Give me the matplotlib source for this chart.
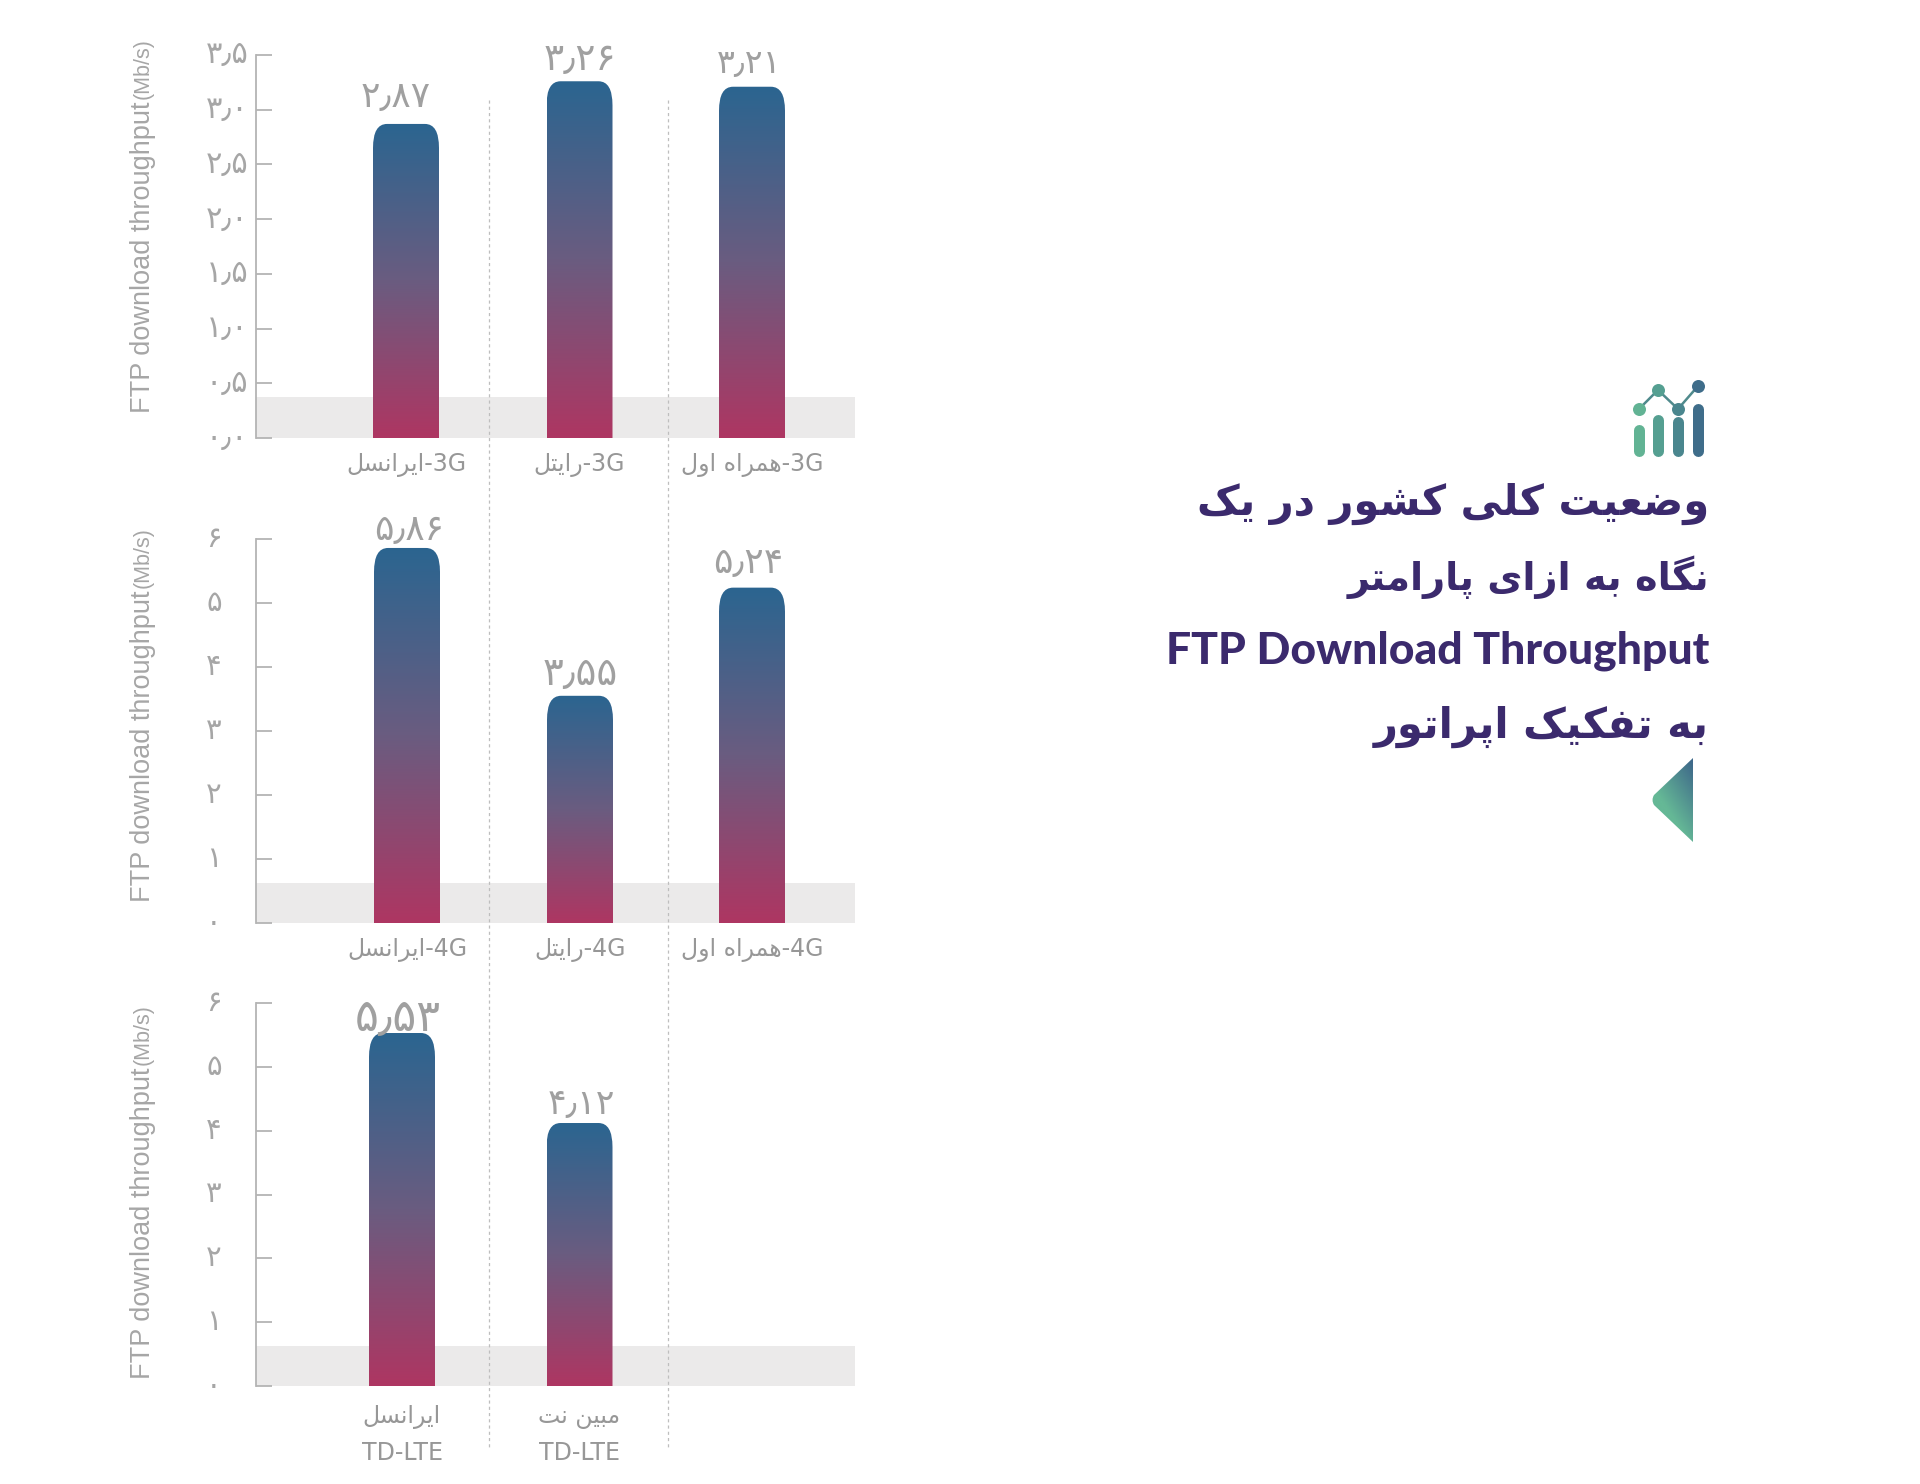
import numpy as np
import matplotlib
matplotlib.use("Agg")
import matplotlib.pyplot as plt
from matplotlib.colors import LinearSegmentedColormap
from matplotlib.path import Path
from matplotlib.patches import PathPatch

# ---------- data ----------
operators_3g = ["ایرانسل", "رایتل", "همراه اول"]
values_3g = [2.87, 3.26, 3.21]
operators_4g = ["ایرانسل", "رایتل", "همراه اول"]
values_4g = [5.86, 3.55, 5.24]
operators_td = ["ایرانسل", "مبین نت"]
values_td = [5.53, 4.12]
ticks_3g = [0.0, 0.5, 1.0, 1.5, 2.0, 2.5, 3.0, 3.5]
ticks_int = [0, 1, 2, 3, 4, 5, 6]
band_3g = 0.375
band_4g = 0.625
band_td = 0.625
title_lines = ["وضعیت کلی کشور در یک", "نگاه به ازای پارامتر", "FTP Download Throughput", "به تفکیک اپراتور"]

# ---------- Persian shaping (matplotlib draws no shaping itself) ----------
FORMS = {
    "ا": (0xFE8D, 0xFE8E), "د": (0xFEA9, 0xFEAA), "ر": (0xFEAD, 0xFEAE), "ز": (0xFEAF, 0xFEB0), "و": (0xFEED, 0xFEEE),
    "ب": (0xFE8F, 0xFE90, 0xFE91, 0xFE92), "پ": (0xFB56, 0xFB57, 0xFB58, 0xFB59), "ت": (0xFE95, 0xFE96, 0xFE97, 0xFE98),
    "س": (0xFEB1, 0xFEB2, 0xFEB3, 0xFEB4), "ش": (0xFEB5, 0xFEB6, 0xFEB7, 0xFEB8), "ض": (0xFEBD, 0xFEBE, 0xFEBF, 0xFEC0),
    "ع": (0xFEC9, 0xFECA, 0xFECB, 0xFECC), "ف": (0xFED1, 0xFED2, 0xFED3, 0xFED4), "ک": (0xFB8E, 0xFB8F, 0xFB90, 0xFB91),
    "گ": (0xFB92, 0xFB93, 0xFB94, 0xFB95), "ل": (0xFEDD, 0xFEDE, 0xFEDF, 0xFEE0), "م": (0xFEE1, 0xFEE2, 0xFEE3, 0xFEE4),
    "ن": (0xFEE5, 0xFEE6, 0xFEE7, 0xFEE8), "ه": (0xFEE9, 0xFEEA, 0xFEEB, 0xFEEC), "ی": (0xFBFC, 0xFBFD, 0xFBFE, 0xFBFF),
}


def fa(text):
    out = []
    for i, ch in enumerate(text):
        f = FORMS.get(ch)
        if f is None:
            out.append(ch)
            continue
        prev = text[i - 1] if i else ""
        nxt = text[i + 1] if i + 1 < len(text) else ""
        pj = prev in FORMS and len(FORMS[prev]) == 4
        nj = nxt in FORMS and len(f) == 4
        if pj and nj:
            c = f[3]
        elif pj:
            c = f[1]
        elif nj:
            c = f[2]
        else:
            c = f[0]
        out.append(chr(c))
    return "".join(out)[::-1]


DIG = str.maketrans("0123456789.", "۰۱۲۳۴۵۶۷۸۹٫")


def fnum(v, d):
    return f"{v:.{d}f}".translate(DIG)


# ---------- layout (pixels of the 1920x1484 canvas) ----------
W, H = 1920, 1484
DPI = 100
PX = 72 / DPI
GREY = "#a6a6a6"
BAND = "#ebeaea"
fig = plt.figure(figsize=(W / DPI, H / DPI), dpi=DPI, facecolor="white")
grad = LinearSegmentedColormap.from_list("g", ["#2b6590", "#6a5c80", "#ae3662"])
gimg = np.linspace(0, 1, 256).reshape(-1, 1)


def panel(y_top, y_bot, values, labels, ticks, tick_dec, band, centers, offs, ylab_base, val_sizes, second_line=None, lab_suffix="", pad=15):
    ax = fig.add_axes([256 / W, 1 - y_bot / H, 599 / W, (y_bot - y_top) / H])
    ax.set_xlim(256, 855)
    ax.set_ylim(ticks[0], ticks[-1])
    ax.patch.set_alpha(0)
    for s in ("top", "right", "bottom"):
        ax.spines[s].set_visible(False)
    ax.spines["left"].set_color("#b4b4b4")
    ax.spines["left"].set_linewidth(1.3)
    ax.axhspan(0, band, color=BAND, lw=0, zorder=0)
    ax.set_yticks(ticks)
    ax.set_yticklabels([fnum(t, tick_dec) for t in ticks])
    ax.tick_params(axis="y", direction="in", length=16 * PX, width=1.3, color="#b4b4b4",
                   labelcolor=GREY, labelsize=22 if tick_dec else 21, pad=50 * PX)
    for lb in ax.get_yticklabels():
        lb.set_ha("left")
        lb.set_va("center")
    bars = ax.bar(centers, values, width=66, facecolor="none", edgecolor="none", zorder=2)
    ppy = (y_bot - y_top) / (ticks[-1] - ticks[0])
    rx, ry = 14, 24 / ppy
    for b, v, (dx, dy), vs in zip(bars, values, offs, val_sizes):
        x0, x1 = b.get_x(), b.get_x() + b.get_width()
        im = ax.imshow(gimg, cmap=grad, extent=[x0, x1, 0, v], aspect="auto", origin="upper", zorder=2)
        p = Path([(x0, 0), (x0, v - ry), (x0, v), (x0 + rx, v), (x1 - rx, v), (x1, v), (x1, v - ry), (x1, 0), (x0, 0)],
                 [Path.MOVETO, Path.LINETO, Path.CURVE3, Path.CURVE3, Path.LINETO, Path.CURVE3, Path.CURVE3, Path.LINETO, Path.CLOSEPOLY])
        im.set_clip_path(PathPatch(p, transform=ax.transData))
        ax.annotate(fnum(v, 2), (b.get_x() + b.get_width() / 2, v), xytext=(dx * PX, dy * PX),
                    textcoords="offset points", ha="center", va="center", color="#a0a0a0", fontsize=vs, zorder=3)
    ax.set_xlim(256, 855)
    ax.set_ylim(ticks[0], ticks[-1])
    ax.set_xticks(centers)
    if second_line:
        ax.set_xticklabels([fa(l) + "\n" + second_line for l in labels], linespacing=1.64)
    else:
        ax.set_xticklabels([fa(l) + lab_suffix for l in labels])
    ax.tick_params(axis="x", length=0, labelcolor="#979797", labelsize=17, pad=pad * PX)
    # y title: two sizes, stacked along the spine
    ov.text(143, ylab_base, "FTP download throughput", rotation=90, ha="center", va="bottom", color=GREY,
            fontsize=19.5, family="Liberation Sans")
    ov.text(143, ylab_base - 314, "(Mb/s)", rotation=90, ha="center", va="bottom", color=GREY,
            fontsize=15.5, family="Liberation Sans")
    return ax


# overlay in canvas pixels
ov = fig.add_axes([0, 0, 1, 1], zorder=5)
ov.set_xlim(0, W)
ov.set_ylim(H, 0)
ov.axis("off")
ov.patch.set_alpha(0)

panel(55, 438, values_3g, operators_3g, ticks_3g, 1, band_3g, [406, 579.5, 752],
      [(-10, 27), (0, 21), (-3, 23)], 413, [26, 27, 24], lab_suffix="-3G")
panel(539, 923, values_4g, operators_4g, ticks_int, 0, band_4g, [407, 580, 752],
      [(2, 18), (0, 22), (-4, 25)], 902, [26, 28, 26], lab_suffix="-4G")
panel(1003, 1386, values_td, operators_td, ticks_int, 0, band_td, [402, 579.5],
      [(-4, 15), (2, 19)], 1379, [32, 25], second_line="TD-LTE", pad=19)

# dashed separators
for x in (489, 668):
    ov.plot([x, x], [100, 1448], color="#bebebe", lw=0.9, dashes=(2.5, 2.5))

# title block
TITLE = "#3b2a6d"
for line, y, fs in zip(title_lines, (504, 577, 651, 727), (30, 27.5, 32, 30)):
    if line.startswith("FTP"):
        ov.text(1709, y, line, ha="right", va="center", color=TITLE, fontsize=fs, fontweight="black", family="Lato")
    else:
        ov.text(1709, y, fa(line), ha="right", va="center", color=TITLE, fontsize=fs, fontweight="bold", family="DejaVu Sans")

# icon
ICON = ["#62b394", "#559f91", "#4a868e", "#3f6d8a"]
for x, t, c in zip((1639, 1658, 1678, 1698), (430, 420, 422, 409), ICON):
    ov.plot([x, x], [t, 451], color=c, lw=11 * PX, solid_capstyle="round")
dx_, dy_ = (1639, 1658, 1678, 1698), (409, 390, 409, 386)
ov.plot(dx_, dy_, color="#4f8a8c", lw=1.8)
for x, y, c in zip(dx_, dy_, ICON):
    ov.plot([x], [y], "o", color=c, ms=13 * PX, mew=0)

# triangle marker
tgrad = LinearSegmentedColormap.from_list("t", ["#3f6a8a", "#65b896"])
xx, yy = np.meshgrid(np.linspace(0, 1, 64), np.linspace(0, 1, 64))
im = ov.imshow(np.clip(yy + (1 - xx) * 0.8 - 0.1, 0, 1), cmap=tgrad, extent=[1650, 1694, 842, 757], aspect="auto", origin="upper")
tp = Path([(1693, 758), (1654, 795), (1651, 800), (1654, 805), (1693, 842), (1693, 758)],
          [Path.MOVETO, Path.LINETO, Path.CURVE3, Path.CURVE3, Path.LINETO, Path.CLOSEPOLY])
im.set_clip_path(PathPatch(tp, transform=ov.transData))
ov.set_xlim(0, W)
ov.set_ylim(H, 0)

fig.savefig("out.png", dpi=DPI, facecolor="white")
